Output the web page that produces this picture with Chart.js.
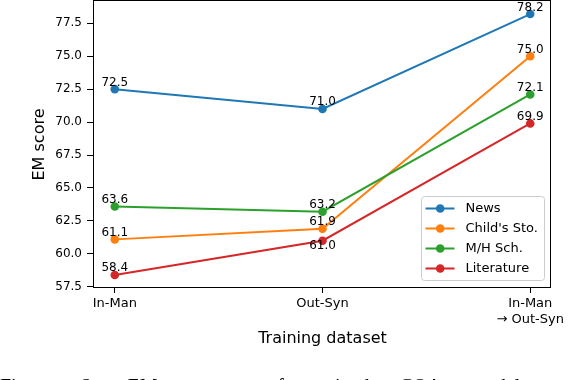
<!DOCTYPE html>
<html>
<head>
<meta charset="utf-8">
<script src="https://cdn.jsdelivr.net/npm/chart.js@4/dist/chart.umd.min.js"></script>
<style>
html, body { margin:0; padding:0; background:#fff; width:578px; height:380px; overflow:hidden; }
#wrap { position:relative; width:578px; height:380px; overflow:hidden; }
#chart { position:absolute; left:0; top:0; }
#caption { position:absolute; left:0; top:376px; width:578px; font-family:"Liberation Serif", serif; font-size:20px; line-height:20px; text-align:justify; text-align-last:justify; color:#000; }
</style>
</head>
<body>
<div id="wrap">
<canvas id="chart" width="578" height="380"></canvas>
<div id="caption">Figure 2: EM scores of trained CQA models on</div>
</div>
<script>
// ---- data ----
const categories = ['In-Man', 'Out-Syn', ['In-Man', '→ Out-Syn']];
const seriesNames = ['News', "Child's Sto.", 'M/H Sch.', 'Literature'];
const news = [72.5, 71.0, 78.2];
const childsSto = [61.1, 61.9, 75.0];
const mhSch = [63.6, 63.2, 72.1];
const literature = [58.4, 61.0, 69.9];
const yTicks = [57.5, 60.0, 62.5, 65.0, 67.5, 70.0, 72.5, 75.0, 77.5];
const xTitle = 'Training dataset';
const yTitle = 'EM score';

const seriesValues = [news, childsSto, mhSch, literature];
const colors = ['#1f77b4', '#ff7f0e', '#2ca02c', '#d62728'];
const FONT = '"DejaVu Sans", sans-serif';

// matplotlib-like 5% auto margins
const allVals = seriesValues.flat();
const dMin = Math.min(...allVals), dMax = Math.max(...allVals);
const yMin = dMin - 0.05 * (dMax - dMin);
const yMax = dMax + 0.05 * (dMax - dMin);
const xMin = -0.05 * (categories.length - 1);
const xMax = (categories.length - 1) * 1.05;

const datasets = seriesNames.map((name, s) => ({
  label: name,
  data: seriesValues[s].map((v, i) => ({ x: i, y: v })),
  borderColor: colors[s],
  backgroundColor: colors[s],
  pointBackgroundColor: colors[s],
  pointBorderColor: colors[s],
  pointBorderWidth: 0,
  pointRadius: 4.3,
  borderWidth: 2,
  tension: 0,
  fill: false,
  order: seriesNames.length - s
}));

const decorPlugin = {
  id: 'decor',
  afterDatasetsDraw(chart) {
    const ctx = chart.ctx;
    const ca = chart.chartArea;
    ctx.save();
    // frame (spines)
    ctx.strokeStyle = '#000';
    ctx.lineWidth = 1;
    ctx.strokeRect(ca.left - 0.5, ca.top - 0.5, ca.right - ca.left, ca.bottom - ca.top);

    // value labels
    ctx.font = '12px ' + FONT;
    ctx.fillStyle = '#000';
    ctx.textAlign = 'center';
    ctx.textBaseline = 'alphabetic';
    chart.data.datasets.forEach((ds, s) => {
      const meta = chart.getDatasetMeta(s);
      meta.data.forEach((pt, i) => {
        const v = seriesValues[s][i];
        // put label below if another series sits just above it
        const crowded = seriesValues.some((arr, k) => k !== s && arr[i] > v && arr[i] - v < 1.0);
        const y = crowded ? pt.y + 8.7 : pt.y - 3.5;
        ctx.fillText(v.toFixed(1), pt.x, y);
      });
    });

    // legend
    ctx.font = '13px ' + FONT;
    const maxW = Math.max(...seriesNames.map(n => ctx.measureText(n).width));
    const boxW = 4.5 + 29 + 11 + maxW + 6.5;
    const rowH = 20;
    const boxH = 24 + rowH * (seriesNames.length - 1);
    const right = Math.round(ca.right - 7);
    const bottom = Math.round(ca.bottom - 8);
    const left = Math.round(right - boxW);
    const top = bottom - boxH;
    ctx.beginPath();
    ctx.roundRect(left + 0.5, top + 0.5, right - left, boxH, 3);
    ctx.fillStyle = 'rgba(255,255,255,0.8)';
    ctx.fill();
    ctx.strokeStyle = '#cccccc';
    ctx.lineWidth = 1;
    ctx.stroke();
    seriesNames.forEach((name, s) => {
      const cy = top + 12 + s * rowH + 0.5;
      ctx.strokeStyle = colors[s];
      ctx.lineWidth = 2;
      ctx.beginPath();
      ctx.moveTo(left + 4.5, cy);
      ctx.lineTo(left + 33.5, cy);
      ctx.stroke();
      ctx.fillStyle = colors[s];
      ctx.beginPath();
      ctx.arc(left + 19.2, cy, 4.3, 0, Math.PI * 2);
      ctx.fill();
      ctx.fillStyle = '#000';
      ctx.textAlign = 'left';
      ctx.textBaseline = 'middle';
      ctx.fillText(name, left + 44.5, cy);
    });
    ctx.restore();
  }
};

function noPad(s) { s.paddingTop = 0; s.paddingBottom = 0; s.paddingLeft = 0; s.paddingRight = 0; }

new Chart(document.getElementById('chart'), {
  type: 'line',
  data: { datasets },
  options: {
    responsive: false,
    animation: false,
    events: [],
    layout: { autoPadding: false, padding: { top: 1, right: 27, left: 0, bottom: 0 } },
    plugins: { legend: { display: false }, tooltip: { enabled: false } },
    scales: {
      x: {
        type: 'linear',
        min: xMin,
        max: xMax,
        afterBuildTicks: s => { s.ticks = categories.map((c, i) => ({ value: i })); },
        afterFit: s => { s.height = 92; noPad(s); },
        ticks: {
          callback: v => categories[v],
          color: '#000',
          font: { family: FONT, size: 13 },
          padding: 3,
          maxRotation: 0,
          autoSkip: false
        },
        grid: { drawOnChartArea: false, drawTicks: true, tickLength: 5, color: '#000', lineWidth: 1 },
        border: { display: false },
        title: { display: true, text: xTitle, color: '#000', font: { family: FONT, size: 16 }, padding: { top: 0, bottom: 32 } }
      },
      y: {
        min: yMin,
        max: yMax,
        afterBuildTicks: s => { s.ticks = yTicks.map(v => ({ value: v })); },
        afterFit: s => { s.width = 94; noPad(s); },
        ticks: {
          callback: v => Number(v).toFixed(1),
          color: '#000',
          font: { family: FONT, size: 12 },
          padding: 5
        },
        grid: { drawOnChartArea: false, drawTicks: true, tickLength: 7, color: '#000', lineWidth: 1 },
        border: { display: false },
        title: { display: true, text: yTitle, color: '#000', font: { family: FONT, size: 16 }, padding: { top: 30, bottom: 0 } }
      }
    }
  },
  plugins: [decorPlugin]
});
</script>
</body>
</html>
